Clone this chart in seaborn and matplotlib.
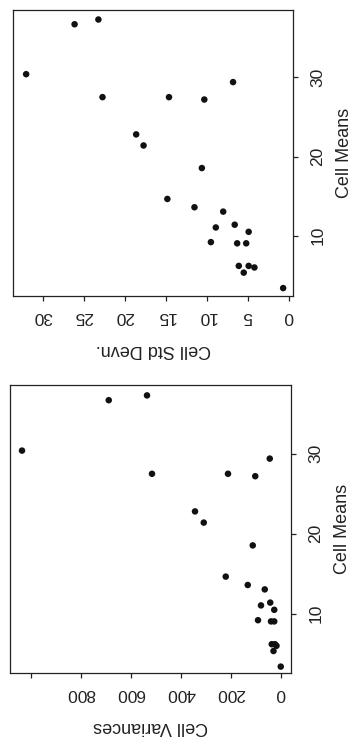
import matplotlib
matplotlib.use("Agg")
import matplotlib.pyplot as plt
import seaborn as sns
import pandas as pd

cell_means = [30.4, 36.7, 37.3, 27.5, 29.4, 27.5, 27.2, 22.8, 21.4, 18.55, 14.65, 13.6,
              13.05, 11.05, 11.4, 10.5, 9.2, 9.05, 9.05, 6.2, 6.2, 6.0, 5.35, 3.4]
cell_std_devs = [32.0, 26.1, 23.2, 22.7, 6.8, 14.6, 10.3, 18.6, 17.7, 10.6, 14.8, 11.5,
                 8.0, 8.9, 6.6, 4.9, 9.5, 6.3, 5.2, 6.1, 4.9, 4.2, 5.5, 0.7]
cell_variances = [1036, 689, 536, 516, 45, 212, 103, 344, 309, 113, 221, 133,
                  65, 80, 43, 27, 92, 40, 27, 37, 24, 18, 30, 1]

mean_ticks = [10, 20, 30]
sd_ticks = [0, 5, 10, 15, 20, 25, 30]
var_ticks = [0, 200, 400, 600, 800, 1000]
var_tick_labels = ["0", "200", "400", "600", "800", ""]

sns.set_style("ticks")
plt.rcParams["font.family"] = ["Liberation Sans", "DejaVu Sans"]
INK = "#222222"
plt.rcParams.update({
    "axes.edgecolor": INK, "axes.linewidth": 0.9,
    "xtick.color": INK, "ytick.color": INK,
    "xtick.major.size": 3.5, "ytick.major.size": 3.5,
    "xtick.major.width": 0.9, "ytick.major.width": 0.9,
    "text.color": INK, "axes.labelcolor": INK,
})

df = pd.DataFrame({"mean": cell_means, "sd": cell_std_devs, "var": cell_variances})

fig = plt.figure(figsize=(3.55, 7.40), dpi=100)
ax_sd = fig.add_axes([13 / 355, 1 - 296 / 740, 280 / 355, 286 / 740])
ax_var = fig.add_axes([10 / 355, 1 - 673 / 740, 281 / 355, 288 / 740])


def style_panel(ax, xcol, xlim, xticks, xlabels, xlabel):
    sns.scatterplot(data=df, x=xcol, y="mean", ax=ax, color="#111111",
                    s=22, edgecolor="none", linewidth=0)
    # page is turned: value axis runs right-to-left, means run upward on the right
    ax.set_xlim(*xlim)
    ax.set_xticks(xticks)
    ax.set_xticklabels(xlabels, rotation=180, fontsize=12.5)
    ax.tick_params(axis="x", pad=6)
    ax.set_xlabel(xlabel, rotation=180, fontsize=13, labelpad=12)

    ax.yaxis.tick_right()
    ax.yaxis.set_label_position("right")
    ax.set_yticks(mean_ticks)
    ax.set_yticklabels([str(t) for t in mean_ticks], rotation=90, va="center", fontsize=12.5)
    ax.tick_params(axis="y", pad=9)
    ax.set_ylabel("Cell Means", rotation=90, fontsize=13, labelpad=8)
    for side in ["top", "right", "bottom", "left"]:
        ax.spines[side].set_visible(True)


style_panel(ax_sd, "sd", (33.6, -0.5), sd_ticks, [str(t) for t in sd_ticks], "Cell Std Devn.")
ax_sd.set_ylim(2.4, 38.5)

style_panel(ax_var, "var", (1084, -40), var_ticks, var_tick_labels, "Cell Variances")
ax_var.set_ylim(2.6, 38.6)

fig.savefig("out.png", dpi=100, facecolor="white")
